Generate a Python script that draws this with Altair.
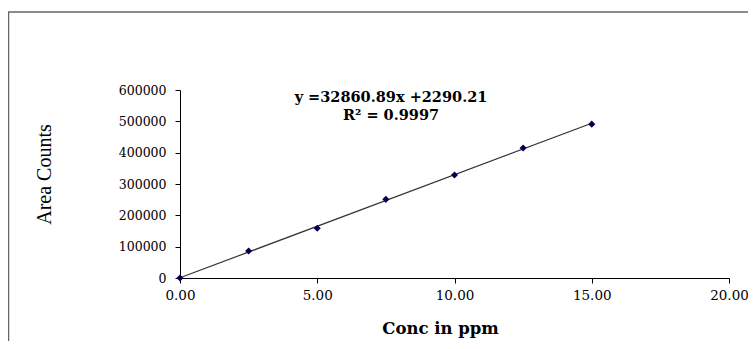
import altair as alt
import pandas as pd

conc = [0.0, 2.5, 5.0, 7.5, 10.0, 12.5, 15.0]
area = [0, 86000, 159000, 251000, 329000, 415000, 491000]
x_ticks = [0, 5, 10, 15, 20]
y_ticks = [0, 100000, 200000, 300000, 400000, 500000, 600000]
eq_lines = ["y =32860.89x +2290.21", "R² = 0.9997"]

df = pd.DataFrame({"conc": conc, "area": area})
FONT = "DejaVu Serif"

xenc = alt.X("conc:Q", scale=alt.Scale(domain=[0, 20], nice=False),
             axis=alt.Axis(values=x_ticks, format=".2f", title="Conc in ppm",
                           titleFont=FONT, titleFontSize=16.5, titleFontWeight="bold",
                           titleX=260, titleY=55, titleBaseline="alphabetic",
                           labelFont=FONT, labelFontSize=13.5, labelColor="#000",
                           labelFlush=False, labelPadding=5, tickSize=5,
                           tickColor="#000", domainColor="#000", grid=False,
                           titleColor="#000"))
yenc = alt.Y("area:Q", scale=alt.Scale(domain=[0, 600000], nice=False),
             axis=alt.Axis(values=y_ticks, format="d", title="Area Counts",
                           titleFont="Liberation Serif", titleFontSize=20,
                           titleFontWeight="normal", titleX=-130, titleY=84,
                           titleBaseline="alphabetic", titleAlign="center",
                           labelFont=FONT, labelFontSize=12.5, labelColor="#000",
                           labelPadding=9, tickSize=5, tickColor="#000",
                           labelFlush=False,
                           domainColor="#000", grid=False, titleColor="#000"))

line = alt.Chart(df).transform_regression("conc", "area").mark_line(
    color="#333333", strokeWidth=1.2).encode(x=xenc, y=yenc)

pts = alt.Chart(df).mark_point(shape="diamond", filled=True, color="#000050",
                               size=50, opacity=1).encode(x=xenc, y=yenc)

eq_df = pd.DataFrame({"t": eq_lines, "py": [12, 30]})
eq = alt.Chart(eq_df).mark_text(font=FONT, fontSize=14.5, fontWeight="bold",
                                color="#000", align="center",
                                baseline="alphabetic").encode(
    x=alt.value(211), y=alt.Y("py:Q", scale=None), text="t:N")

frame = alt.Chart(pd.DataFrame({"a": [0]})).mark_rect(
    fillOpacity=0, stroke="#666666", strokeWidth=1.5).encode(
    x=alt.value(-171.5), x2=alt.value(620), y=alt.value(-78), y2=alt.value(300))

chart = alt.layer(frame, line, pts, eq).properties(
    width=549, height=188,
    autosize=alt.AutoSizeParams(type="none"),
    padding={"left": 172, "top": 82, "right": 19, "bottom": 63},
).configure_view(stroke=None)

chart.save("out.html", embed_options={"renderer": "svg", "actions": False})
